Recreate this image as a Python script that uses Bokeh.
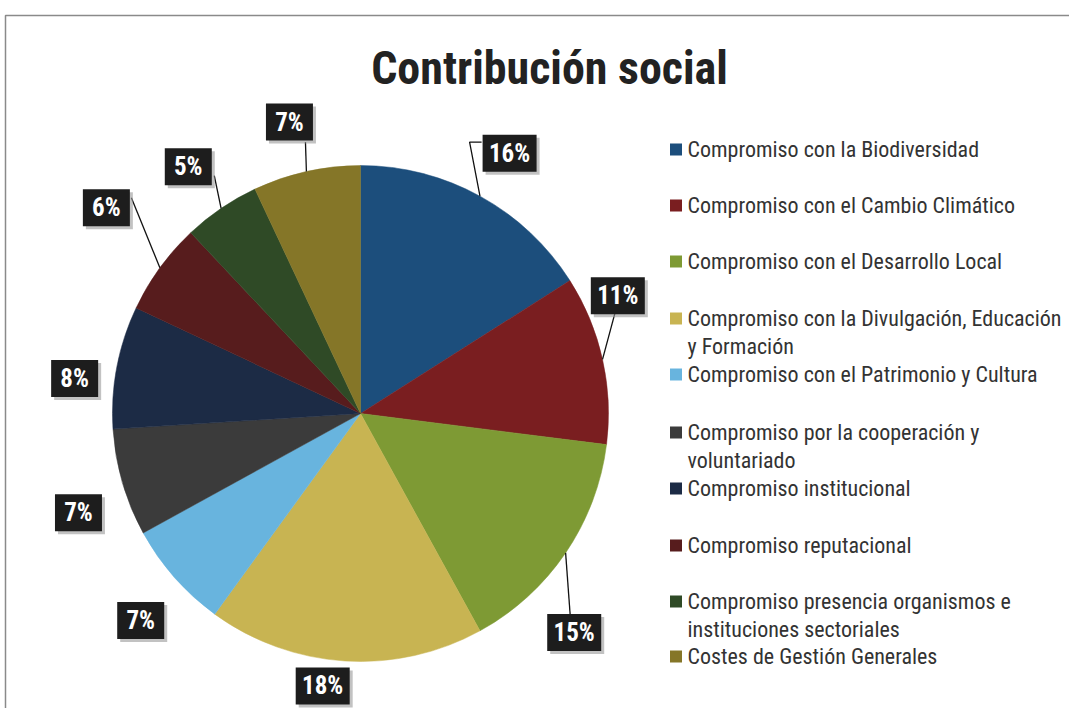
import numpy as np
from bokeh.plotting import figure
from bokeh.models import Range1d, ColumnDataSource
from bokeh.core.properties import value
from bokeh.embed import file_html
from bokeh.resources import INLINE

# ---------------- data ----------------
title = "Contribución social"
categories = [
    "Compromiso con la Biodiversidad",
    "Compromiso con el Cambio Climático",
    "Compromiso con el Desarrollo Local",
    "Compromiso con la Divulgación, Educación y Formación",
    "Compromiso con el Patrimonio y Cultura",
    "Compromiso por la cooperación y voluntariado",
    "Compromiso institucional",
    "Compromiso reputacional",
    "Compromiso presencia organismos e instituciones sectoriales",
    "Costes de Gestión Generales",
]
legend_lines = [
    ["Compromiso con la Biodiversidad"],
    ["Compromiso con el Cambio Climático"],
    ["Compromiso con el Desarrollo Local"],
    ["Compromiso con la Divulgación, Educación", "y Formación"],
    ["Compromiso con el Patrimonio y Cultura"],
    ["Compromiso por la cooperación y", "voluntariado"],
    ["Compromiso institucional"],
    ["Compromiso reputacional"],
    ["Compromiso presencia organismos e", "instituciones sectoriales"],
    ["Costes de Gestión Generales"],
]
values = [16, 11, 15, 18, 7, 7, 8, 6, 5, 7]
colors = ["#1c4e7c", "#7a1e20", "#7e9a34", "#c8b452", "#68b4de",
          "#3b3b3b", "#1c2b45", "#571c1d", "#2f4a26", "#857628"]

# ---------------- layout ----------------
W, H = 1069, 708
REF_H = 724
def Y(ry):
    return REF_H - ry

CX, CY, R = 360, Y(413), 248
label_dist = [300, 283, 306, 275, 302, 299, 288, 327, 301, 300]
label_nudge_deg = [1, -12, 11.5, 4.3, -1.9, -3.2, -3.8, 3, -0.7, -1.1]
# leader end relative to the label box centre (screen px, y down); None = no leader
leader_end = [(-28, -11), (-3, 18), (-4, -17), None, None, None, None,
              (25, -10), (26, 9), (16, 20)]
leader_elbow = [(-40, -11), None, None, None, None, None, None, None, None, None]
legend_y = [149, 205, 261, 318, 374, 432, 488, 545, 601, 656]
LINE_STEP = 28
FONT = "Roboto Condensed, Roboto"

p = figure(width=W, height=H, output_backend="svg", toolbar_location=None,
           x_range=Range1d(0, W), y_range=Range1d(REF_H - H, REF_H),
           min_border=0)
p.axis.visible = False
p.grid.visible = False
p.outline_line_color = None
p.background_fill_color = "white"
p.border_fill_color = "white"

# frame lines of the scanned page
p.line([5, 5, 1069], [Y(724), Y(15), Y(15)], line_color="#8a8a8a", line_width=1.5)

# ---------------- pie ----------------
vals = np.array(values, dtype=float)
frac = vals / vals.sum()
cum = np.cumsum(frac)
start = np.pi / 2 - 2 * np.pi * (cum - frac)
end = np.pi / 2 - 2 * np.pi * cum
mid = np.pi / 2 - 2 * np.pi * (cum - frac / 2)

src = ColumnDataSource(dict(start=start, end=end, color=colors, cat=categories))
p.wedge(x=CX, y=CY, radius=R, start_angle="start", end_angle="end",
        direction="clock", fill_color="color", line_color="color",
        line_width=0.5, source=src)

# ---------------- labels ----------------
lab_ang = mid - np.radians(label_nudge_deg)
lx = CX + np.array(label_dist) * np.cos(lab_ang)
ly = CY + np.array(label_dist) * np.sin(lab_ang)
labels = [f"{v}%" for v in values]
box_w = [54 if len(t) > 2 else 47 for t in labels]

for i in range(len(values)):
    if leader_end[i] is None:
        continue
    xs = [CX + R * np.cos(mid[i])]
    ys = [CY + R * np.sin(mid[i])]
    if leader_elbow[i] is not None:
        xs.append(lx[i] + leader_elbow[i][0])
        ys.append(ly[i] - leader_elbow[i][1])
    xs.append(lx[i] + leader_end[i][0])
    ys.append(ly[i] - leader_end[i][1])
    p.line(xs, ys, line_color="#111111", line_width=1.3)

lsrc = ColumnDataSource(dict(x=lx, y=ly, sx=lx + 3, sy=ly - 3, w=box_w, t=labels))
p.rect(x="sx", y="sy", width="w", height=37, width_units="screen",
       height_units="screen", fill_color="#9a9a9a", fill_alpha=0.6,
       line_color=None, source=lsrc)
p.rect(x="x", y="y", width="w", height=37, width_units="screen",
       height_units="screen", fill_color="#1d1d1d", line_color=None, source=lsrc)
p.text(x="x", y="y", text="t", text_color="white", text_font=value(FONT),
       text_font_style="bold", text_font_size="25px", text_align="center",
       text_baseline="middle", source=lsrc)

# ---------------- title ----------------
p.text(x=[549], y=[Y(67)], text=[title], text_font=value(FONT),
       text_font_style="bold", text_font_size="46px", text_color="#222222",
       text_align="center", text_baseline="middle")

# ---------------- legend ----------------
p.rect(x=[675.5] * len(values), y=[Y(v) for v in legend_y], width=12, height=12,
       width_units="screen", height_units="screen", fill_color=colors,
       line_color=None)
tx, ty, tt = [], [], []
for yy, lines in zip(legend_y, legend_lines):
    for j, ln in enumerate(lines):
        tx.append(687)
        ty.append(Y(yy + j * LINE_STEP))
        tt.append(ln)
p.text(x=tx, y=ty, text=tt, text_font=value(FONT), text_font_size="22px",
       text_color="#333333", text_align="left", text_baseline="middle")

open("out.html", "w").write(file_html(p, INLINE))
